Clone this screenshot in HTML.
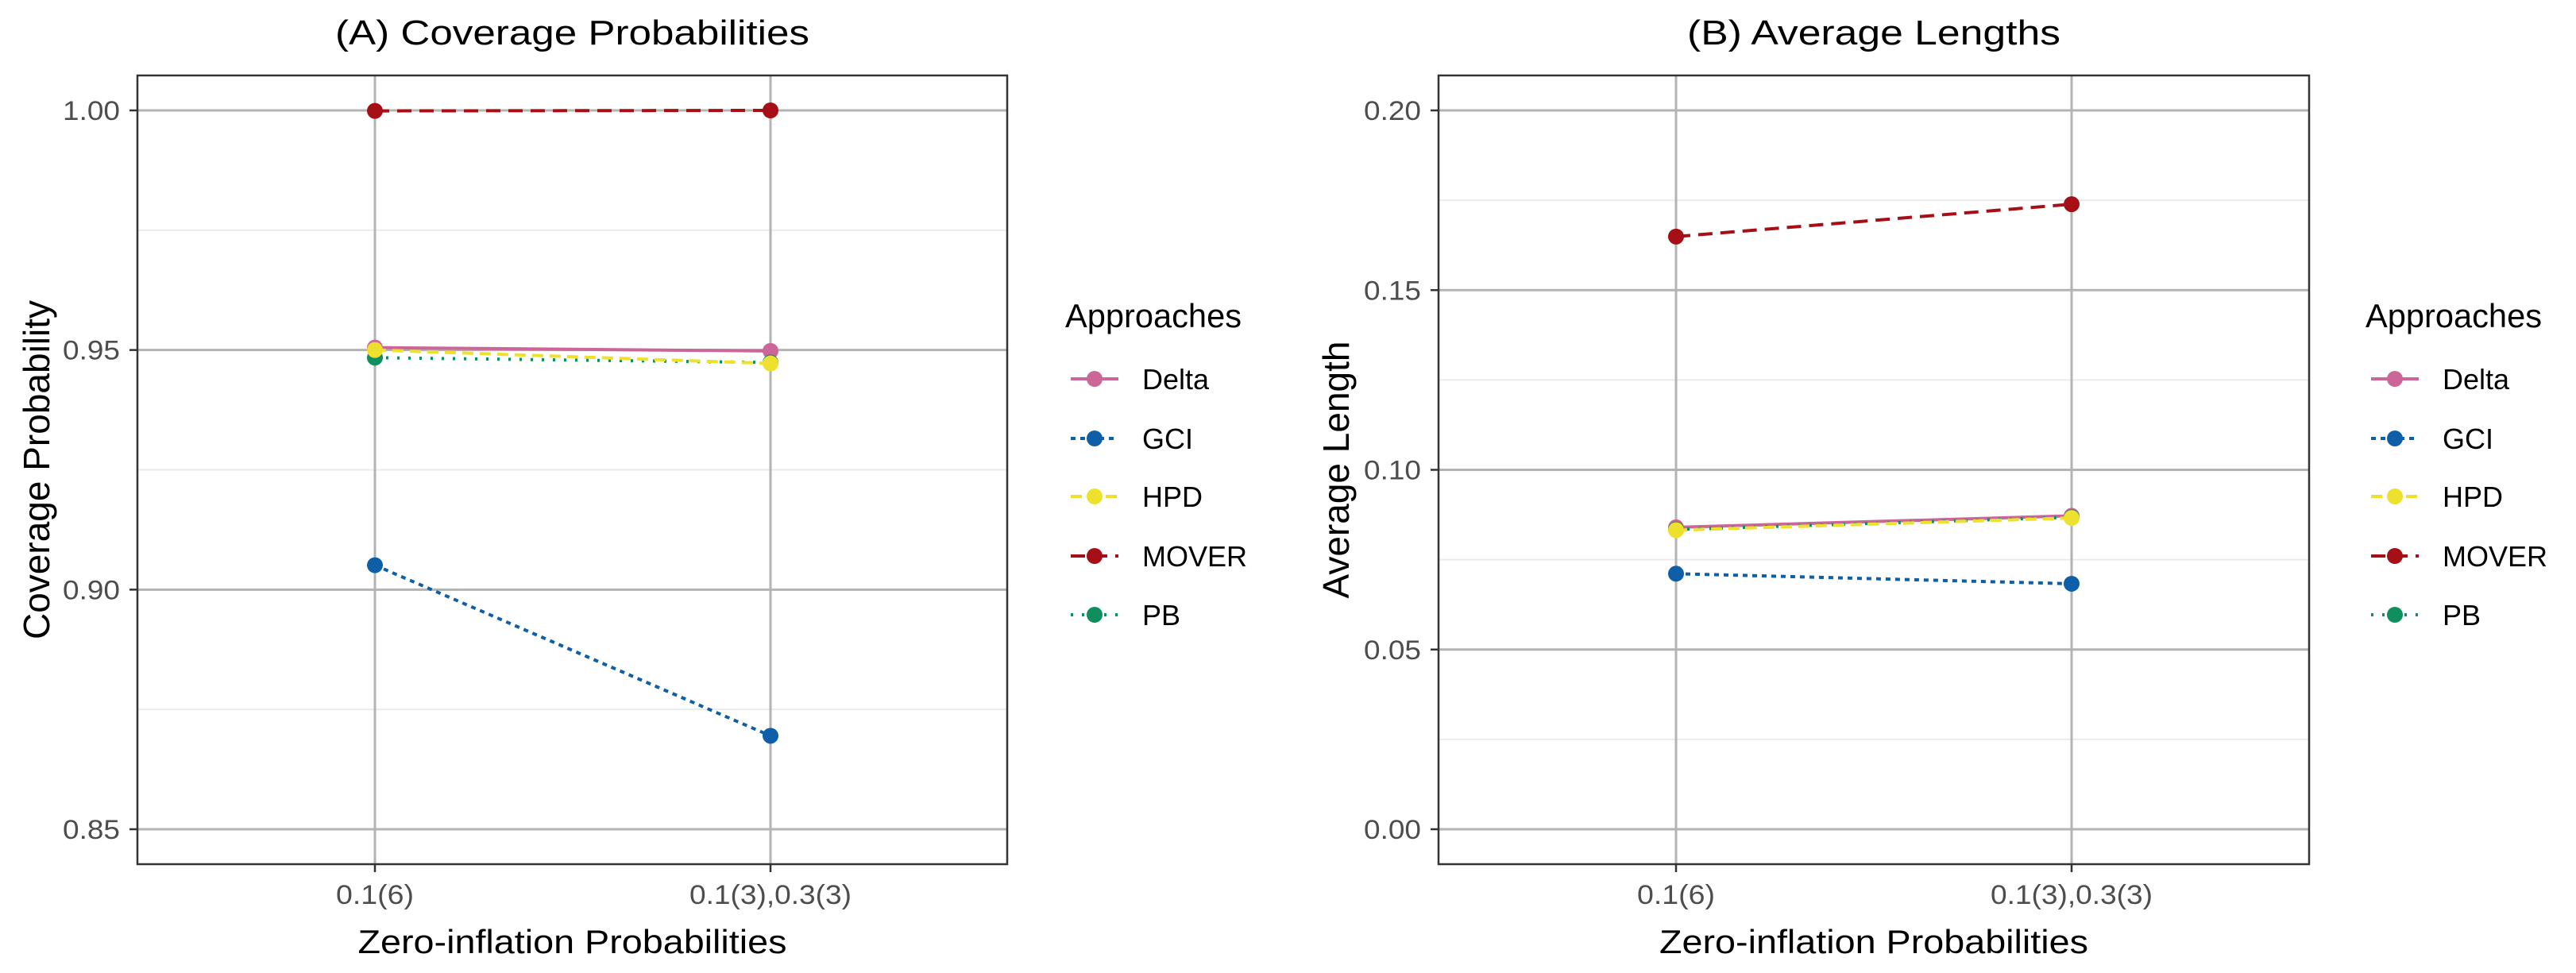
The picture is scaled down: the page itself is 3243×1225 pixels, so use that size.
<!DOCTYPE html>
<html><head><meta charset="utf-8"><style>
body{margin:0;background:#fff}
svg text{font-family:"Liberation Sans",sans-serif}
</style></head><body>
<svg id="c" width="3243" height="1220" xmlns="http://www.w3.org/2000/svg"></svg>
<script>
const categories=["0.1(6)","0.1(3),0.3(3)"];
const seriesNames=["Delta","GCI","HPD","MOVER","PB"];
const drawOrder=["Delta","GCI","PB","HPD","MOVER"];
const covDelta=[0.9505,0.9498];
const covGCI=[0.9051,0.8695];
const covHPD=[0.9500,0.9472];
const covMOVER=[0.9999,1.0000];
const covPB=[0.9484,0.9474];
const lenDelta=[0.0840,0.0872];
const lenGCI=[0.0711,0.0683];
const lenHPD=[0.0832,0.0866];
const lenMOVER=[0.1649,0.1739];
const lenPB=[0.0834,0.0868];
const covTicks=[0.85,0.90,0.95,1.00];
const covTickLabels=["0.85","0.90","0.95","1.00"];
const lenTicks=[0.00,0.05,0.10,0.15,0.20];
const lenTickLabels=["0.00","0.05","0.10","0.15","0.20"];

const colors={Delta:"#CC6699",GCI:"#0F5FA8",HPD:"#EEE12E",MOVER:"#A50F15",PB:"#0F8F5E"};
const dashes={Delta:"",GCI:"6,6",HPD:"14,8",MOVER:"18,10",PB:"3,11"};
const NS="http://www.w3.org/2000/svg";
const svg=document.getElementById('c');
function el(t,a,p){const e=document.createElementNS(NS,t);for(const k in a)e.setAttribute(k,a[k]);(p||svg).appendChild(e);return e;}

function panel(o){
  const g=el('g',{});
  
  
  const L=o.left,R=o.right,T=95,B=1088;
  const y=v=>o.y0px+(v-o.v0)*(o.y1px-o.y0px)/(o.v1-o.v0);
  const x=i=>o.xs[i];
  for(let i=0;i<o.ticks.length-1;i++){
    const m=(o.ticks[i]+o.ticks[i+1])/2;
    const ln=el('line',{x1:L,x2:R,y1:y(m),y2:y(m),stroke:"#ebebeb","stroke-width":2},g);
    
    
  }
  o.ticks.forEach((t,i)=>{
    const ln=el('line',{x1:L,x2:R,y1:y(t),y2:y(t),stroke:"#b3b3b3","stroke-width":3},g);
    
    
    el('line',{x1:L-10,x2:L,y1:y(t),y2:y(t),stroke:"#333","stroke-width":2.5},g);
    const tx=el('text',{x:L-22,y:y(t)+12,"text-anchor":"end","font-size":34,fill:"#4d4d4d",textLength:o.tlw,lengthAdjust:"spacingAndGlyphs"},g);
    tx.textContent=o.tickLabels[i];
    
    
  });
  categories.forEach((c,i)=>{
    const ln=el('line',{x1:x(i),x2:x(i),y1:T,y2:B,stroke:"#b3b3b3","stroke-width":3},g);
    
    
    el('line',{x1:x(i),x2:x(i),y1:B,y2:B+10,stroke:"#333","stroke-width":2.5},g);
    const tx=el('text',{x:x(i),y:1138,"text-anchor":"middle","font-size":34,fill:"#4d4d4d",textLength:i==0?98:204,lengthAdjust:"spacingAndGlyphs"},g);
    tx.textContent=c;
    
    
  });
  drawOrder.forEach(s=>{
    const d=o.data[s];
    const pts=d.map((v,i)=>x(i)+","+y(v)).join(" ");
    const pl=el('polyline',{points:pts,fill:"none",stroke:colors[s],"stroke-width":4,"stroke-dasharray":dashes[s]},g);
    
    
    d.forEach((v,i)=>{
      const c=el('circle',{cx:x(i),cy:y(v),r:10,fill:colors[s]},g);
      
      
    });
  });
  const bx=el('rect',{x:L,y:T,width:R-L,height:B-T,fill:"none",stroke:"#333","stroke-width":2.5},g);
  
  
  const cx=(L+R)/2;
  const tt=el('text',{x:cx,y:56,"text-anchor":"middle","font-size":44,fill:"#000",textLength:o.titleW,lengthAdjust:"spacingAndGlyphs"},g);
  tt.textContent=o.title;
  
  
  const xt=el('text',{x:cx,y:1200,"text-anchor":"middle","font-size":42,fill:"#000",textLength:540,lengthAdjust:"spacingAndGlyphs"},g);
  xt.textContent="Zero-inflation Probabilities";
  
  
  const yt=el('text',{x:0,y:0,"text-anchor":"middle","font-size":46,fill:"#000",transform:`translate(${o.ytx},${(T+B)/2}) rotate(-90)`},g);
  yt.textContent=o.ytitle;
  
  
  const lg=el('g',{},g);
  
  
  const lt=el('text',{x:o.legX,y:412,"font-size":42,fill:"#000",textLength:222,lengthAdjust:"spacingAndGlyphs"},lg);
  lt.textContent="Approaches";
  
  
  const ly=[477,552,625,700,774];
  seriesNames.forEach((s,i)=>{
    const e=el('g',{},lg);
    
    
    el('line',{x1:o.legX+7,x2:o.legX+67,y1:ly[i],y2:ly[i],stroke:colors[s],"stroke-width":4,"stroke-dasharray":dashes[s]},e);
    el('circle',{cx:o.legX+37,cy:ly[i],r:10,fill:colors[s]},e);
    const t=el('text',{x:o.legX+97,y:ly[i]+13,"font-size":36,fill:"#000"},e);
    t.textContent=s;
  });
}
panel({id:"coverage",left:173,right:1268,xs:[472,970],y0px:1044,y1px:139,v0:0.85,v1:1.00,ticks:covTicks,tickLabels:covTickLabels,tlw:72,
  data:{Delta:covDelta,GCI:covGCI,HPD:covHPD,MOVER:covMOVER,PB:covPB},title:"(A) Coverage Probabilities",titleW:597,ytitle:"Coverage Probability",ytx:62,legX:1341});
panel({id:"length",left:1811,right:2907,xs:[2110,2608],y0px:1044,y1px:139,v0:0.00,v1:0.20,ticks:lenTicks,tickLabels:lenTickLabels,tlw:72,
  data:{Delta:lenDelta,GCI:lenGCI,HPD:lenHPD,MOVER:lenMOVER,PB:lenPB},title:"(B) Average Lengths",titleW:470,ytitle:"Average Length",ytx:1698,legX:2978});
</script>
</body></html>
